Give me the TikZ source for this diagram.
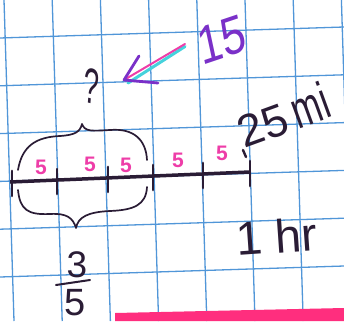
\documentclass[tikz,border=0pt]{standalone}
\usepackage{fontspec}
\setmainfont{Liberation Sans}
\usetikzlibrary{arrows.meta}
\definecolor{gridblue}{HTML}{5096D8}
\definecolor{ink}{HTML}{2A1C35}
\definecolor{pinkfive}{HTML}{EE3DA8}
\definecolor{purp}{HTML}{7A30C8}
\definecolor{cyanish}{HTML}{45D2DC}
\definecolor{hotpink}{HTML}{FF2E7E}
\tikzset{
  gridline/.style={gridblue, line width=1.3},
  inkline/.style={ink, line width=1.7, line cap=round, line join=round},
  tickmark/.style={ink, line width=2.8, line cap=round},
  five/.style={text=pinkfive, font=\fontsize{21}{21}\selectfont\bfseries, inner sep=0pt},
  hand/.style={text=ink, inner sep=0pt},
}
\begin{document}
\begin{tikzpicture}[x=1pt,y=-1pt]
\useasboundingbox (0,0) rectangle (344,321);
\fill[white] (0,0) rectangle (344,321);
% grid
\foreach \i in {0,...,7} \draw[gridline] ({4+48.2*\i},0) -- ({14+48.2*\i},321);
\foreach \j in {0,...,5} \draw[gridline] (0,{38+47.8*\j}) -- (344,{27+47.8*\j});
% pink strip
\fill[hotpink] (115,313) -- (344,308) -- (344,321) -- (115,321) -- cycle;
% number line
\coordinate (L0) at (10,182);
\coordinate (L5) at (250,172);
\draw[ink, line width=3.5] (L0) -- (L5);
\foreach \x/\n in {12/0,57/1,108/2,153/3,203/4,250/5}{
  \pgfmathsetmacro{\yy}{182-(\x-10)*10/240}
  \coordinate (t\n) at (\x,\yy);
  \draw[tickmark] ([yshift=11pt]t\n) -- ([yshift=-14pt]t\n);
}
% fives
\node[five] (f1) at (41,167) {5};
\node[five] (f2) at (90,164) {5};
\node[five] (f3) at (126,165) {5};
\node[five] (f4) at (178,160) {5};
\node[five] (f5) at (222,153) {5};
% braces
\draw[inkline] (18,170) .. controls (22,146) and (36,137) .. (60,136)
  .. controls (75,135) and (80,132) .. (82,124)
  .. controls (85,132) and (92,131) .. (110,130)
  .. controls (134,128) and (146,140) .. (147,160);
\draw[inkline] (18,190) .. controls (20,210) and (28,215) .. (50,214)
  .. controls (67,213) and (73,218) .. (76,228)
  .. controls (78,217) and (88,212) .. (110,211)
  .. controls (134,210) and (146,205) .. (147,187);
% question mark
\node[hand, font=\fontsize{50}{50}\selectfont, xscale=0.55, rotate=-8] (q) at (91,86) {?};
% arrow and 15
\coordinate (as) at (185,44);
\coordinate (ae) at (124,80);
\draw[cyanish, line width=3, line cap=round] ([yshift=-2.5pt]as) -- ([xshift=4pt,yshift=-3pt]ae);
\draw[pinkfive, line width=2, line cap=round] (as) -- (ae);
\draw[purp, line width=2.8, line cap=round, line join=round] (139,56) -- (ae) -- (158,83);
\node[text=purp, font=\fontsize{54}{54}\selectfont, xscale=0.8, rotate=15, inner sep=0pt] (n15) at (222,40) {15};
% 25 mi
\node[hand, rotate=20] (d25) at (283,115) {\fontsize{45}{45}\selectfont 25\,\scalebox{0.68}[1]{\fontsize{52}{52}\selectfont mi}};
\draw[inkline, line width=2.4] (243,150) -- (246,157);
% 1 hr
\node[hand, font=\fontsize{47}{47}\selectfont, rotate=4] (hr) at (277,236) {1 hr};
% fraction
\node[hand, font=\fontsize{37}{37}\selectfont] (num) at (77,265) {3};
\node[hand, font=\fontsize{38}{38}\selectfont] (den) at (75,303) {5};
\draw[inkline, line width=2] (56,285) -- (90,280);
\end{tikzpicture}
\end{document}
